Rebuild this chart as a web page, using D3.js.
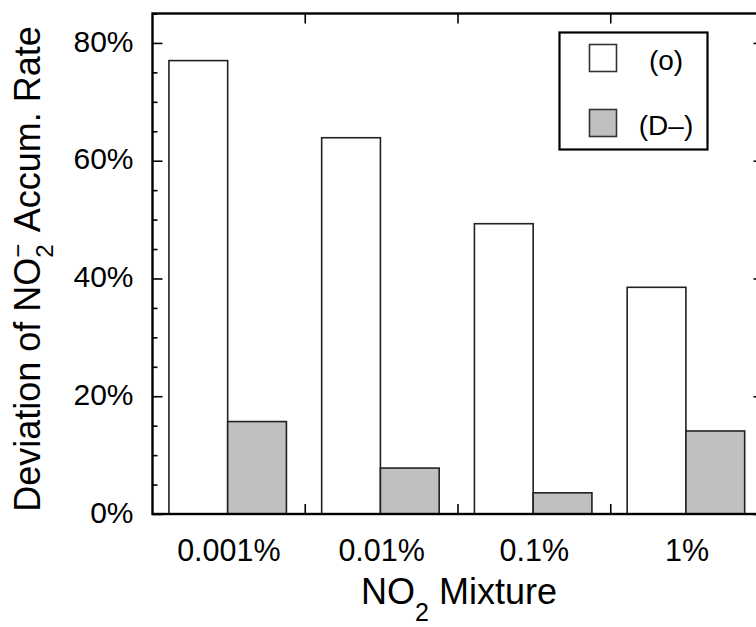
<!DOCTYPE html>
<html>
<head>
<meta charset="utf-8">
<script src="https://cdn.jsdelivr.net/npm/d3@7"></script>
<style>
  body { margin: 0; background: #fff; }
  text { font-family: "Liberation Sans", Arial, Helvetica, sans-serif; fill: #000; }
</style>
</head>
<body>
<div id="chart"></div>
<script>
// mixtures on the x axis
var mixtures = ["0.001%", "0.01%", "0.1%", "1%"];
// series names (legend labels)
var seriesNames = ["(o)", "(D\u2013)"];
// deviation values, in percent
var valuesO = [77.0, 63.9, 49.3, 38.5];
var valuesD = [15.7, 7.8, 3.6, 14.1];
var majorTicks = [0, 20, 40, 60, 80];
var minorTicks = [5, 10, 15, 25, 30, 35, 45, 50, 55, 65, 70, 75, 85];

var fills = ["#ffffff", "#c0c0c0"];

var W = 756, H = 627;
var margin = {left: 152.5, right: 763.5, top: 13.5, bottom: 514};

var svg = d3.select("#chart").append("svg")
    .attr("width", W)
    .attr("height", H);

var x0 = d3.scaleBand()
    .domain(mixtures)
    .range([margin.left, margin.right])
    .padding(0);

var x1 = d3.scaleBand()
    .domain([0, 1])
    .range([0, x0.bandwidth()])
    .paddingInner(0)
    .paddingOuter(0.3);

var y = d3.scaleLinear()
    .domain([0, 85])
    .range([margin.bottom, margin.top]);

var rows = mixtures.map(function (m, i) {
    return {mix: m, vals: [valuesO[i], valuesD[i]]};
});

// bars
var groups = svg.selectAll(".grp")
    .data(rows)
    .enter().append("g")
    .attr("class", "grp")
    .attr("transform", function (d) { return "translate(" + (x0(d.mix) - 1.2) + ",0)"; });

groups.selectAll("rect")
    .data(function (d) { return d.vals; })
    .enter().append("rect")
    .attr("x", function (d, i) { return x1(i); })
    .attr("width", x1.bandwidth())
    .attr("y", function (d) { return y(d); })
    .attr("height", function (d) { return y(0) - y(d); })
    .style("fill", function (d, i) { return fills[i]; })
    .style("stroke", "#222")
    .style("stroke-width", 1.6);

function styleTicks(g) {
    g.select(".domain").remove();
    g.selectAll("line").style("stroke", "#000").style("stroke-width", 1.6);
}

// left axis, major ticks with labels
var yAxis = d3.axisLeft(y)
    .tickValues(majorTicks)
    .tickSizeInner(-10)
    .tickSizeOuter(0)
    .tickPadding(19)
    .tickFormat(function (d) { return d + "%"; });

var gy = svg.append("g")
    .attr("transform", "translate(" + margin.left + ",0)")
    .call(yAxis);
styleTicks(gy);
gy.selectAll("text")
    .attr("dy", "0.27em")
    .style("font-size", "30px")
    .style("font-family", "'Liberation Sans', Arial, sans-serif");

// minor ticks left
var gyMinor = svg.append("g")
    .attr("transform", "translate(" + margin.left + ",0)")
    .call(d3.axisLeft(y).tickValues(minorTicks).tickSize(-5).tickFormat(""));
styleTicks(gyMinor);

// right axis ticks (inward)
var gyR = svg.append("g")
    .attr("transform", "translate(" + margin.right + ",0)")
    .call(d3.axisRight(y).tickValues(majorTicks).tickSize(-10).tickFormat(""));
styleTicks(gyR);
var gyRMinor = svg.append("g")
    .attr("transform", "translate(" + margin.right + ",0)")
    .call(d3.axisRight(y).tickValues(minorTicks).tickSize(-5).tickFormat(""));
styleTicks(gyRMinor);

// bottom axis: labels at group centres, ticks at group boundaries
var xAxis = d3.axisBottom(x0)
    .tickSize(0)
    .tickPadding(25);
var gx = svg.append("g")
    .attr("transform", "translate(0," + margin.bottom + ")")
    .call(xAxis);
gx.select(".domain").remove();
gx.selectAll("text")
    .style("font-size", "30.5px")
    .style("font-family", "'Liberation Sans', Arial, sans-serif");

var boundaries = mixtures.slice(1);
svg.selectAll(".bt")
    .data(boundaries)
    .enter().append("line")
    .attr("x1", function (d) { return x0(d); })
    .attr("x2", function (d) { return x0(d); })
    .attr("y1", margin.bottom)
    .attr("y2", margin.bottom - 10)
    .style("stroke", "#000").style("stroke-width", 1.6);
svg.selectAll(".tt")
    .data(boundaries)
    .enter().append("line")
    .attr("x1", function (d) { return x0(d); })
    .attr("x2", function (d) { return x0(d); })
    .attr("y1", margin.top)
    .attr("y2", margin.top + 10)
    .style("stroke", "#000").style("stroke-width", 1.6);

// frame
svg.append("rect")
    .attr("x", margin.left)
    .attr("y", margin.top)
    .attr("width", margin.right - margin.left)
    .attr("height", margin.bottom - margin.top)
    .style("fill", "none")
    .style("stroke", "#000")
    .style("stroke-width", 2.4);

// legend
var legend = svg.append("g");
legend.append("rect")
    .attr("x", 559.5).attr("y", 32.5)
    .attr("width", 148).attr("height", 117)
    .style("fill", "#fff").style("stroke", "#000").style("stroke-width", 2.2);
var li = legend.selectAll(".li")
    .data(seriesNames)
    .enter().append("g")
    .attr("transform", function (d, i) { return "translate(0," + (i * 65) + ")"; });
li.append("rect")
    .attr("x", 589.5).attr("y", 44.5)
    .attr("width", 27).attr("height", 27)
    .style("fill", function (d, i) { return fills[i]; })
    .style("stroke", "#333").style("stroke-width", 1.6);
li.append("text")
    .attr("x", 666).attr("y", 70)
    .attr("text-anchor", "middle")
    .style("font-size", "28px")
    .text(function (d) { return d; });

// x axis title
var xt = svg.append("text")
    .attr("x", 459)
    .attr("y", 604)
    .attr("text-anchor", "middle")
    .style("font-size", "36px");
xt.append("tspan").text("NO");
xt.append("tspan").attr("dy", 17).style("font-size", "25px").text("2");
xt.append("tspan").attr("dy", -17).text(" Mixture");

// y axis title
var yt = svg.append("text")
    .attr("transform", "translate(40,269) rotate(-90)")
    .attr("text-anchor", "middle")
    .style("font-size", "36px");
yt.append("tspan").text("Deviation of NO");
yt.append("tspan").attr("dy", -14).style("font-size", "24px").text("\u2212");
yt.append("tspan").attr("dx", -14).attr("dy", 27).style("font-size", "24px").text("2");
yt.append("tspan").attr("dx", 4).attr("dy", -13).text(" Accum. Rate");
</script>
</body>
</html>
